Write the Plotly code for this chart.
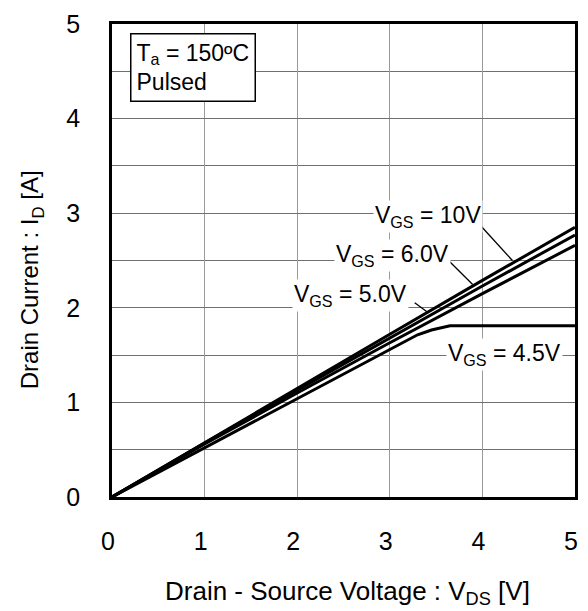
import plotly.graph_objects as go

# Data
vds = [0, 1, 2, 3, 4, 5]
id_10v = [0, 0.575, 1.15, 1.72, 2.29, 2.85]
id_6v = [0, 0.57, 1.13, 1.68, 2.23, 2.77]
id_5v = [0, 0.56, 1.10, 1.63, 2.15, 2.66]
vds_45 = [0, 1, 2, 3, 3.3, 3.45, 3.56, 3.65, 5]
id_45v = [0, 0.52, 1.04, 1.56, 1.715, 1.765, 1.792, 1.81, 1.81]

x_ticks = [0, 1, 2, 3, 4, 5]
y_ticks = [0, 1, 2, 3, 4, 5]

FONT = "Liberation Sans, Arial, sans-serif"

fig = go.Figure()
for xs, ys, name in [(vds, id_10v, "10V"), (vds, id_6v, "6.0V"),
                     (vds, id_5v, "5.0V"), (vds_45, id_45v, "4.5V")]:
    fig.add_trace(go.Scatter(x=xs, y=ys, mode="lines", name=name,
                             line=dict(color="black", width=3),
                             showlegend=False))

labels = [
    ("V<sub>GS</sub> = 10V", 3.41, 2.96),
    ("V<sub>GS</sub> = 6.0V", 3.03, 2.55),
    ("V<sub>GS</sub> = 5.0V", 2.58, 2.13),
    ("V<sub>GS</sub> = 4.5V", 4.24, 1.51),
]
for txt, lx, ly in labels:
    fig.add_annotation(x=lx, y=ly, xref="x", yref="y", text=txt, showarrow=False,
                       font=dict(family=FONT, size=23, color="black"),
                       bgcolor="white", borderpad=1)

leaders = [
    ((3.977, 2.872), (4.324, 2.500)),
    ((3.645, 2.490), (3.895, 2.246)),
    ((3.269, 2.054), (3.412, 1.950)),
]
for (x0, y0), (x1, y1) in leaders:
    fig.add_shape(type="line", x0=x0, y0=y0, x1=x1, y1=y1, xref="x", yref="y",
                  line=dict(color="black", width=1.3))

fig.add_annotation(x=0.038, y=0.982, xref="paper", yref="paper",
                   xanchor="left", yanchor="top", align="left", showarrow=False,
                   text="T<sub>a</sub> = 150ºC<br>Pulsed",
                   font=dict(family=FONT, size=23, color="black"),
                   bgcolor="white", bordercolor="black", borderwidth=1.5, borderpad=5)

fig.add_annotation(x=0.508, y=-0.2025, xref="paper", yref="paper",
                   xanchor="center", yanchor="middle", showarrow=False,
                   text="Drain - Source Voltage : V<sub>DS</sub> [V]",
                   font=dict(family=FONT, size=26, color="black"))
fig.add_annotation(x=-0.172, y=0.459, xref="paper", yref="paper",
                   xanchor="center", yanchor="middle", showarrow=False, textangle=-90,
                   text="Drain Current : I<sub>D</sub> [A]",
                   font=dict(family=FONT, size=24, color="black"))

fig.update_xaxes(range=[0, 5], tickvals=x_ticks, ticks="", showgrid=True,
                 gridcolor="#9a9a9a", gridwidth=1, zeroline=False,
                 showline=True, linecolor="black", linewidth=2.5, mirror=True,
                 tickfont=dict(family=FONT, size=25, color="black"),
                 ticklabelstandoff=20, ticklabelshift=-4)
fig.update_yaxes(range=[0, 5], tickvals=y_ticks, ticks="", showgrid=True,
                 gridcolor="#707070", gridwidth=1, zeroline=False,
                 minor=dict(dtick=0.5, showgrid=True, gridcolor="#707070", gridwidth=1, ticks=""),
                 showline=True, linecolor="black", linewidth=2.5, mirror=True,
                 tickfont=dict(family=FONT, size=25, color="black"),
                 ticklabelstandoff=24)

fig.update_layout(width=588, height=611, paper_bgcolor="white", plot_bgcolor="white",
                  margin=dict(l=112, r=10, t=18, b=114), showlegend=False)

fig.write_html("out.html", config={"displayModeBar": False},
               post_script="document.body.style.margin='0';document.body.style.padding='0';"
                           "document.documentElement.style.overflow='hidden';")
